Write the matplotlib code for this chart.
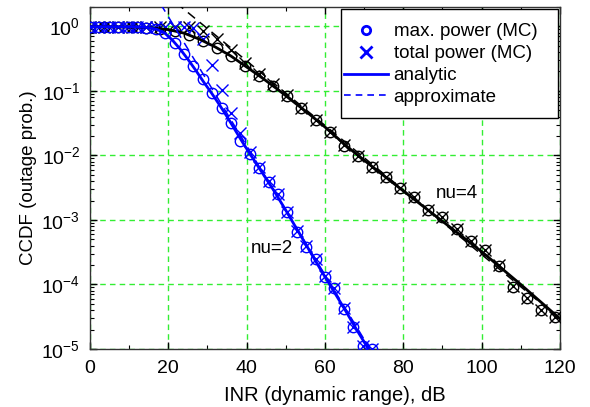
import numpy as np
import matplotlib
matplotlib.use("Agg")
import matplotlib.pyplot as plt
from matplotlib.lines import Line2D
from matplotlib.patches import Rectangle
from matplotlib.ticker import LogLocator, MultipleLocator, NullFormatter

plt.rcParams['font.family'] = ['Liberation Sans', 'DejaVu Sans']
plt.rcParams['mathtext.fontset'] = 'custom'
plt.rcParams['mathtext.rm'] = 'Liberation Sans'

# ---- data (log10 of CCDF) ----
# nu = 2 (blue)
blue_line_x = [0, 12, 15, 17, 19, 21, 23, 25, 27, 29, 31, 33, 35, 37, 39, 41, 44, 47, 50, 53, 56, 59, 62, 65, 68, 71, 74]
blue_line_logp = [-0.005, -0.008, -0.02, -0.045, -0.1, -0.21, -0.35, -0.51, -0.68, -0.86, -1.03, -1.21, -1.4, -1.6,
                  -1.8, -1.99, -2.27, -2.55, -2.85, -3.16, -3.47, -3.78, -4.08, -4.38, -4.69, -4.99, -5.3]
blue_approx_x = [18, 74]
blue_approx_logp = [0.35, -5.25]
blue_mc_x = [0, 2.4, 4.8, 7.2, 9.6, 12, 14.4, 16.8, 19.2, 21.6, 24, 26.4, 28.8, 31.2, 33.6, 36, 38.4, 40.8,
             43.2, 45.6, 48, 50.4, 52.8, 55.2, 57.6, 60, 62.4, 64.8, 67.2, 69.6, 72]
blue_max_logp = [-0.01, -0.01, -0.01, -0.01, -0.01, -0.01, -0.02, -0.04, -0.1, -0.26, -0.43, -0.62, -0.82, -1.04,
                 -1.26, -1.5, -1.77, -1.98, -2.2, -2.41, -2.6, -2.88, -3.18, -3.42, -3.6, -3.88, -4.05, -4.38,
                 -4.66, -4.95, -5.0]
blue_tot_logp = [-0.005, -0.005, -0.005, -0.005, -0.005, -0.005, -0.005, -0.005, -0.01, -0.01, -0.01, -0.03, -0.2,
                 -0.6, -0.98, -1.35, -1.65, -1.95, -2.18, -2.4, -2.6, -2.87, -3.17, -3.41, -3.6, -3.87, -4.05,
                 -4.37, -4.66, -4.95, -5.0]

# nu = 4 (black)
black_line_x = [0, 12, 16, 20, 24, 28, 32, 36, 40, 44, 48, 52, 56, 60, 66, 72, 80, 90, 100, 110, 120]
black_line_logp = [-0.005, -0.012, -0.025, -0.05, -0.105, -0.2, -0.32, -0.46, -0.63, -0.8, -0.98, -1.17, -1.36,
                   -1.56, -1.88, -2.17, -2.55, -3.02, -3.49, -4.0, -4.53]
black_approx_x = [22, 122]
black_approx_logp = [0.365, -4.635]
black_mc_x = [0, 3.6, 7.2, 10.8, 14.4, 18, 21.6, 25.2, 28.8, 32.4, 36, 39.6, 43.2, 46.8, 50.4, 54, 57.6, 61.2,
              64.8, 68.4, 72, 75.6, 79.2, 82.8, 86.4, 90, 93.6, 97.2, 100.8, 104.4, 108, 111.6, 115.2, 118.8]
black_max_logp = [-0.01, -0.01, -0.01, -0.015, -0.02, -0.035, -0.065, -0.13, -0.22, -0.335, -0.46, -0.62, -0.77,
                  -0.92, -1.08, -1.27, -1.45, -1.63, -1.85, -2.01, -2.18, -2.33, -2.5, -2.64, -2.85, -2.96,
                  -3.14, -3.32, -3.47, -3.71, -4.04, -4.21, -4.39, -4.5]
black_tot_logp = [-0.005, -0.005, -0.005, -0.005, -0.005, -0.01, -0.01, -0.01, -0.07, -0.19, -0.37, -0.57, -0.74,
                  -0.9, -1.07, -1.26, -1.45, -1.63, -1.84, -2.01, -2.18, -2.33, -2.5, -2.64, -2.84, -2.96,
                  -3.14, -3.32, -3.47, -3.7, -4.03, -4.21, -4.39, -4.5]

xticks = [0, 20, 40, 60, 80, 100, 120]
labels_text = ["nu=2", "nu=4"]
labels_pos = [(41.0, 10 ** -3.45), (88.3, 10 ** -2.59)]
legend_labels = ['max. power (MC)', 'total power (MC)', 'analytic', 'approximate']

BLUE = '#0000ff'
BLACK = '#000000'

def p(v):
    return 10.0 ** np.asarray(v)

fig = plt.figure(figsize=(5.9, 4.07), dpi=100)
ax = fig.add_axes([0.1525, 0.1425, 0.7965, 0.8405])

ms = 7.5
for col, lx, ly, ax_x, ax_y, mx, mmax, mtot in [
        (BLACK, black_line_x, black_line_logp, black_approx_x, black_approx_logp, black_mc_x, black_max_logp, black_tot_logp),
        (BLUE, blue_line_x, blue_line_logp, blue_approx_x, blue_approx_logp, blue_mc_x, blue_max_logp, blue_tot_logp)]:
    ax.plot(mx, p(mmax), 'o', mfc='none', mec=col, ms=ms, mew=1.0, zorder=3)
    ax.plot(mx, p(mtot), 'x', color=col, ms=ms + 1, mew=1.0, zorder=3)
    ax.plot(lx, p(ly), '-', color=col, lw=2.0, zorder=4)
    ax.plot(ax_x, p(ax_y), '--', color=col, lw=1.1, dashes=(6, 4), zorder=4)

ax.set_yscale('log')
ax.set_xlim(0, 120)
ax.set_ylim(1e-5, 2)
ax.set_xticks(xticks)
ax.xaxis.set_minor_locator(MultipleLocator(10))
ax.yaxis.set_major_locator(LogLocator(base=10, numticks=10))
ax.yaxis.set_minor_locator(LogLocator(base=10, subs=np.arange(2, 10), numticks=20))
ax.yaxis.set_minor_formatter(NullFormatter())
ax.tick_params(which='both', direction='in', top=True, right=True, labelsize=14)
ax.tick_params(axis='x', which='major', pad=8)
ax.tick_params(axis='y', which='major', pad=7)
ax.tick_params(which='major', length=5, width=1)
ax.tick_params(which='minor', length=3, width=0.8)
for s in ax.spines.values():
    s.set_linewidth(1.0)
    s.set_color('#333333')

ax.grid(True, which='major', color='#33ee33', linestyle=(0, (4, 3)), linewidth=1.0)
ax.set_axisbelow(True)

ax.set_xlabel('INR (dynamic range), dB', fontsize=14.5)
ax.xaxis.set_label_coords(0.521, -0.135, transform=ax.transAxes)
ax.xaxis.label.set_va('center')
ax.set_ylabel('CCDF (outage prob.)', fontsize=13.5, labelpad=3)

for t, (tx, ty) in zip(labels_text, labels_pos):
    ax.text(tx, ty, t, fontsize=13.5, ha='left', va='center', zorder=5)

handles = [
    Line2D([], [], marker='o', ls='none', mfc='none', mec=BLUE, mew=2.0, ms=6),
    Line2D([], [], marker='x', ls='none', color=BLUE, mew=2.0, ms=9),
    Line2D([], [], ls='-', color=BLUE, lw=2.0),
    Line2D([], [], ls='--', color=BLUE, lw=1.2, dashes=(4, 3)),
]
# legend frame drawn as a rectangle (axes fraction)
ax.add_patch(Rectangle((0.534, 0.675), 0.4617, 0.319, transform=ax.transAxes,
                       facecolor='white', edgecolor='black', lw=1.0, zorder=9))
leg = ax.legend(handles, legend_labels, loc='upper left', bbox_to_anchor=(0.5405, 0.952),
                fontsize=13.5, frameon=False, borderaxespad=0.0, borderpad=0.0,
                handlelength=2.35, handletextpad=0.3, labelspacing=0.25)
leg.set_zorder(10)

fig.savefig('out.png', dpi=100)
